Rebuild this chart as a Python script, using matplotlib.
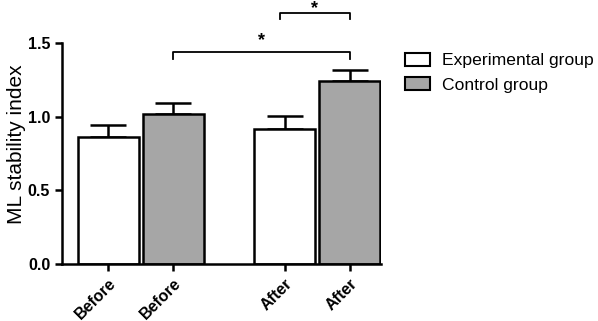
import numpy as np
import matplotlib.pyplot as plt
from matplotlib.patches import Patch

plt.rcParams['font.family'] = ['Liberation Sans', 'DejaVu Sans']

labels = ["Before", "Before", "After", "After"]
means = [0.862, 1.018, 0.917, 1.242]
errs = [0.082, 0.075, 0.088, 0.075]
colors = ["white", "#a6a6a6", "white", "#a6a6a6"]
pos = [0, 1, 2.72, 3.72]

fig = plt.figure(figsize=(5.98, 3.21), dpi=100)
ax = fig.add_axes([62 / 598, 57 / 321, (381 - 62) / 598, 264 / 321])

ax.bar(pos, means, width=0.94, color=colors, edgecolor="black", linewidth=1.8, zorder=2)
ax.errorbar(pos, means, yerr=[[0] * 4, errs], fmt="none", ecolor="black",
            elinewidth=1.8, capsize=13, capthick=1.8, zorder=1)

ax.set_xlim(-0.71, 4.2)
ax.set_ylim(0, 264 / 147.3)
ax.spines["top"].set_visible(False)
ax.spines["right"].set_visible(False)
ax.spines["left"].set_linewidth(1.8)
ax.spines["bottom"].set_linewidth(1.8)
ax.spines["left"].set_bounds(0, 1.5)
ax.set_yticks([0, 0.5, 1.0, 1.5])
ax.set_yticklabels(["0.0", "0.5", "1.0", "1.5"], fontweight="bold", fontsize=11.5)
ax.set_xticks(pos)
ax.set_xticklabels(labels, rotation=45, ha="right", rotation_mode="anchor",
                   fontweight="bold", fontsize=11.5)
ax.tick_params(axis="both", direction="out", length=5, width=1.8)
ax.set_ylabel("ML stability index", fontsize=15)
ax.yaxis.set_label_coords(-0.112, 0.454)

# significance brackets
def bracket(x1, x2, y, h, ytxt):
    ax.plot([x1, x1, x2, x2], [y - h, y, y, y - h], color="black", lw=1.3, clip_on=False)
    ax.text((x1 + x2) / 2, ytxt, "*", ha="center", va="top", fontsize=13,
            fontweight="bold", clip_on=False)

bracket(pos[1], pos[3], 1.44, 0.045, 1.575)
bracket(2.64, pos[3], 1.704, 0.04, 1.79)

handles = [Patch(facecolor="white", edgecolor="black", linewidth=1.5, label="Experimental group"),
           Patch(facecolor="#a6a6a6", edgecolor="black", linewidth=1.5, label="Control group")]
fig.legend(handles=handles, loc="upper left", bbox_to_anchor=(405 / 598, 1 - 53 / 321),
           frameon=False, fontsize=12.6, handlelength=1.4, handleheight=0.74,
           handletextpad=0.7, labelspacing=0.5, borderpad=0, borderaxespad=0)

fig.savefig("out.png", dpi=100)
